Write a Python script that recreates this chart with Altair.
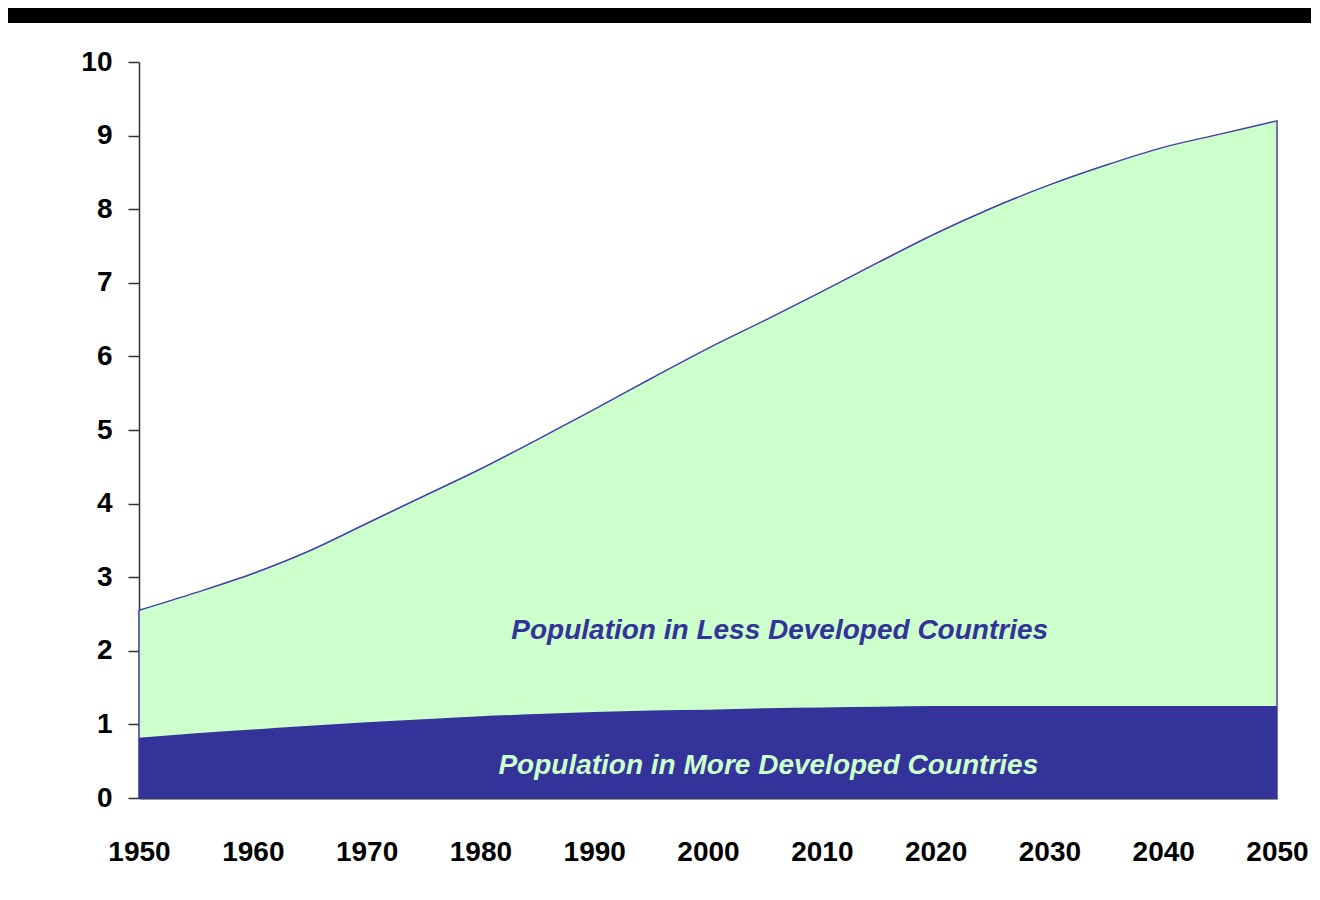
import altair as alt
import pandas as pd

years = [1950, 1955, 1960, 1965, 1970, 1975, 1980, 1985, 1990, 1995, 2000,
         2005, 2010, 2015, 2020, 2025, 2030, 2035, 2040, 2045, 2050]
world_total = [2.55, 2.79, 3.05, 3.36, 3.73, 4.10, 4.47, 4.87, 5.28, 5.70, 6.11,
               6.49, 6.88, 7.28, 7.67, 8.02, 8.33, 8.60, 8.84, 9.02, 9.20]
more_developed = [0.82, 0.88, 0.93, 0.98, 1.03, 1.07, 1.11, 1.14, 1.17, 1.19, 1.20,
                  1.22, 1.23, 1.24, 1.25, 1.25, 1.25, 1.25, 1.25, 1.25, 1.25]
label_less = "Population in Less Developed Countries"
label_more = "Population in More Developed Countries"

df = pd.DataFrame({"year": years, "total": world_total, "more": more_developed})

FONT = "Liberation Sans Narrow, Arial Narrow, Liberation Sans, Arial"
W, H = 1138, 736
PAD = {"left": 131, "top": 54, "right": 34, "bottom": 80}

xs = alt.X("year:Q", scale=alt.Scale(domain=[1950, 2050], nice=False, zero=False),
           axis=alt.Axis(values=list(range(1950, 2051, 10)), format="d", title=None,
                         ticks=False, grid=False, labelPadding=40,
                         labelFlush=False, labelOverlap=False, labelBound=False,
                         domainColor="#222222", domainWidth=2))
ys = alt.Y("total:Q", scale=alt.Scale(domain=[0, 10], nice=False),
           axis=alt.Axis(values=list(range(0, 11)), format="d", title=None, grid=False,
                         tickSize=11, tickColor="#333333", tickWidth=1.5,
                         labelFlush=False, labelOverlap=False,
                         domainColor="#333333", domainWidth=1.5, labelPadding=16))

less_area = alt.Chart(df).mark_area(
    color="#CCFFCC", stroke="#4040A8", strokeWidth=1.5, interpolate="monotone"
).encode(x=xs, y=ys)

more_area = alt.Chart(df).mark_area(color="#333399", interpolate="monotone").encode(
    x=alt.X("year:Q"), y=alt.Y("more:Q")
)

txt_less = alt.Chart(pd.DataFrame({"t": [label_less]})).mark_text(
    font=FONT, fontSize=28, fontWeight="bold", fontStyle="italic",
    color="#333399", align="center", baseline="middle"
).encode(x=alt.datum(2006.3), y=alt.datum(2.27), text="t:N")

txt_more = alt.Chart(pd.DataFrame({"t": [label_more]})).mark_text(
    font=FONT, fontSize=28, fontWeight="bold", fontStyle="italic",
    color="#CCFFCC", align="center", baseline="middle"
).encode(x=alt.datum(2005.3), y=alt.datum(0.43), text="t:N")

band = alt.Chart(pd.DataFrame({"a": [0]})).mark_rect(color="black").encode(
    x=alt.value(-PAD["left"]), x2=alt.value(W + PAD["right"]),
    y=alt.value(-PAD["top"]), y2=alt.value(-39)
)

chart = alt.layer(less_area, more_area, txt_less, txt_more, band).properties(
    width=W, height=H, autosize=alt.AutoSizeParams(type="none"), padding=PAD,
    background="white"
).configure_view(stroke=None).configure_axis(
    labelFont=FONT, labelFontSize=28, labelFontWeight="bold", labelColor="black"
)

chart.save("out.html", embed_options={"renderer": "svg", "actions": False})
